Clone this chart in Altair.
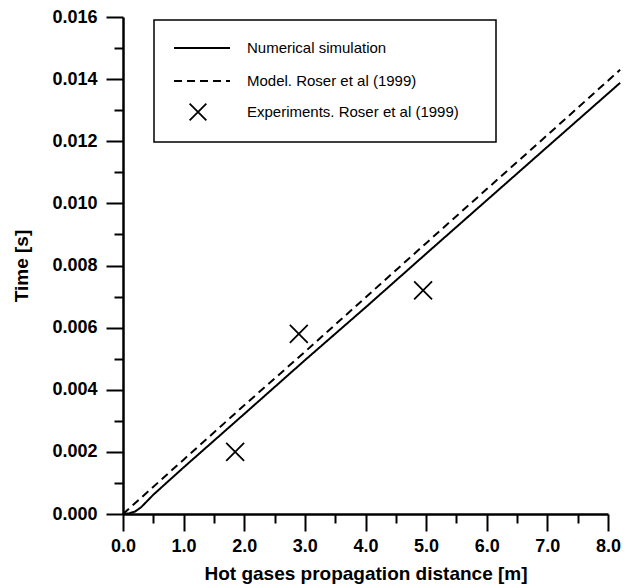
import altair as alt
import pandas as pd

# Numerical simulation
x_sim = [0.0, 0.1, 0.2, 0.3, 0.4, 0.5, 1.0, 2.0, 3.0, 4.0, 5.0, 6.0, 7.0, 8.2]
t_sim = [0.0, 0.00002, 0.00008, 0.00022, 0.00042, 0.00062, 0.0015, 0.00322, 0.00495,
         0.00665, 0.00838, 0.0101, 0.01182, 0.01388]
# Model. Roser et al (1999)
x_model = [0.0, 1.0, 2.0, 3.0, 4.0, 5.0, 6.0, 7.0, 8.2]
t_model = [0.0, 0.00175, 0.0035, 0.00522, 0.00697, 0.00872, 0.01046, 0.0122, 0.0143]
# Experiments. Roser et al (1999)
x_exp = [1.85, 2.9, 4.95]
t_exp = [0.002, 0.0058, 0.0072]

series_names = ["Numerical simulation", "Model. Roser et al (1999)", "Experiments. Roser et al (1999)"]
x_major = [0, 1, 2, 3, 4, 5, 6, 7, 8]
x_minor = [0.5, 1.5, 2.5, 3.5, 4.5, 5.5, 6.5, 7.5]
y_major = [0.0, 0.002, 0.004, 0.006, 0.008, 0.010, 0.012, 0.014, 0.016]
y_minor = [0.001, 0.003, 0.005, 0.007, 0.009, 0.011, 0.013, 0.015]

df_lines = pd.concat([
    pd.DataFrame({"x": x_sim, "t": t_sim, "series": series_names[0]}),
    pd.DataFrame({"x": x_model, "t": t_model, "series": series_names[1]}),
])
df_exp = pd.DataFrame({"x": x_exp, "t": t_exp, "series": series_names[2]})

FONT = "Liberation Sans"
XSHAPE = "M-1,-1L1,1M-1,1L1,-1"
xscale = alt.Scale(domain=[0, 8], nice=False, zero=False)
yscale = alt.Scale(domain=[0, 0.016], nice=False, zero=False)

lines = alt.Chart(df_lines).mark_line(color="black", strokeWidth=2).encode(
    x=alt.X("x:Q", scale=xscale,
            axis=alt.Axis(values=x_major, format=".1f", tickSize=17, labelPadding=6,
                          labelFlush=False,
                          title="Hot gases propagation distance [m]", titlePadding=9)),
    y=alt.Y("t:Q", scale=yscale,
            axis=alt.Axis(values=y_major, format=".3f", tickSize=17, labelPadding=9,
                          labelFlush=False,
                          title="Time [s]", titlePadding=20)),
    strokeDash=alt.StrokeDash("series:N",
                              scale=alt.Scale(domain=series_names[:2], range=[[1, 0], [8, 5]]),
                              legend=None),
    order="x:Q",
)

points = alt.Chart(df_exp).mark_point(shape=XSHAPE, size=320, filled=False,
                                      color="black", strokeWidth=1.8, opacity=1).encode(
    x=alt.X("x:Q", scale=xscale,
            axis=alt.Axis(values=x_minor, tickSize=9, labels=False, domain=False,
                          title=None, orient="bottom")),
    y=alt.Y("t:Q", scale=yscale,
            axis=alt.Axis(values=y_minor, tickSize=9, labels=False, domain=False,
                          title=None, orient="left")),
)

one = pd.DataFrame({"a": [0]})
box = alt.Chart(one).mark_rect(fill="white", fillOpacity=0, stroke="black", strokeWidth=1.5).encode(
    x=alt.value(31), x2=alt.value(373), y=alt.value(3), y2=alt.value(125))
leg_solid = alt.Chart(one).mark_rule(color="black", strokeWidth=2).encode(
    x=alt.value(51), x2=alt.value(107), y=alt.value(31))
leg_dash = alt.Chart(one).mark_rule(color="black", strokeWidth=2, strokeDash=[8, 5]).encode(
    x=alt.value(51), x2=alt.value(107), y=alt.value(64))
leg_x = alt.Chart(one).mark_point(shape=XSHAPE, size=280, filled=False, color="black",
                                  strokeWidth=1.8, opacity=1).encode(
    x=alt.value(75), y=alt.value(95))
texts = [
    alt.Chart(one).mark_text(align="left", baseline="middle", font=FONT, fontSize=15,
                             color="black").encode(
        x=alt.value(124), y=alt.value(yy), text=alt.value(lbl))
    for lbl, yy in zip(series_names, [31, 64, 95])
]

chart = alt.layer(lines, points, box, leg_solid, leg_dash, leg_x, *texts).resolve_axis(
    x="independent", y="independent"
).properties(
    width=485, height=497,
    autosize=alt.AutoSizeParams(type="none"),
    padding={"left": 123, "top": 17, "right": 29, "bottom": 70},
).configure_view(stroke=None).configure_axis(
    grid=False,
    labelFont=FONT, labelFontWeight="bold", labelFontSize=18, labelColor="black",
    titleFont=FONT, titleFontWeight="bold", titleFontSize=19, titleColor="black",
    domainColor="black", domainWidth=2.5, tickColor="black", tickWidth=2,
)

chart.save("out.html", embed_options={"renderer": "svg", "actions": False})
